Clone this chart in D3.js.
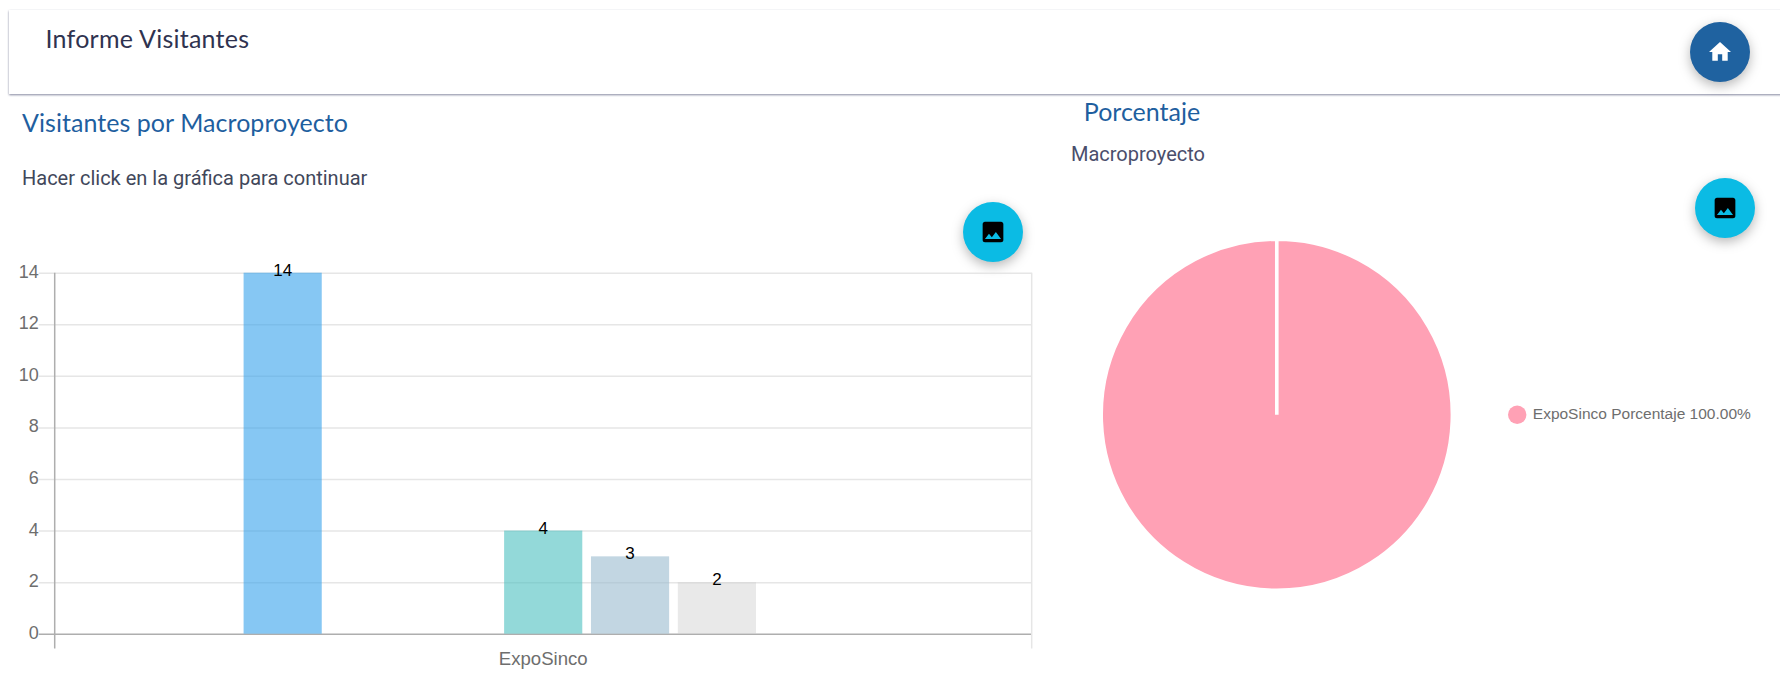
<!DOCTYPE html>
<html>
<head>
<meta charset="utf-8">
<title>Informe Visitantes</title>
<script src="https://cdnjs.cloudflare.com/ajax/libs/d3/7.8.5/d3.min.js"></script>
<style>
    html, body { margin: 0; padding: 0; background: #fff; overflow: hidden; }
    svg { display: block; }
    .card { filter: drop-shadow(0 1.5px 1.2px rgba(50, 55, 95, 0.6)); }
    .fab { filter: drop-shadow(0 4px 6px rgba(0, 0, 0, 0.28)); }
    .nunito { font-family: Lato, "Noto Sans", sans-serif; }
    .roboto { font-family: Roboto, sans-serif; }
    .arial { font-family: "Liberation Sans", Arial, sans-serif; }
</style>
</head>
<body>
<div id="viz-container"></div>
<script>
// bar chart data, one slot per dataset, null = no bar
const categories = ["ExpoSinco"];
const seriesValues = [null, 14, null, null, 4, 3, 2, null, null];
const seriesColors = [
    "rgba(255,99,132,.6)", "rgba(54,162,235,.6)", "rgba(255,206,86,.6)", "rgba(153,102,255,.6)",
    "rgba(75,192,192,.6)", "rgba(150,185,205,.58)", "rgba(201,201,201,.4)", "rgba(255,159,64,.6)", "rgba(100,100,100,.6)"
];
const yTicks = [0, 2, 4, 6, 8, 10, 12, 14];

// pie data
const pieLabels = ["ExpoSinco Porcentaje"];
const pieValues = [100];
const pieColors = ["rgba(255,99,132,.6)"];

const iconHome = "M10 20v-6h4v6h5v-8h3L12 3 2 12h3v8z";
const iconImage = "M21 19V5c0-1.1-.9-2-2-2H5c-1.1 0-2 .9-2 2v14c0 1.1.9 2 2 2h14c1.1 0 2-.9 2-2zM8.5 13.5l2.5 3.01L14.5 12l4.5 6H5l3.5-4.5z";

const width = 1780, height = 681;
const svg = d3.select("#viz-container").append("svg")
    .attr("width", width)
    .attr("height", height);

// header card
svg.append("rect")
    .attr("class", "card")
    .attr("x", 9).attr("y", 10)
    .attr("width", 1790).attr("height", 84)
    .attr("fill", "#fff");

function addText(x, y, str, cls, size, color, anchor) {
    return svg.append("text")
        .attr("class", cls)
        .attr("x", x).attr("y", y)
        .attr("font-size", size)
        .attr("fill", color)
        .attr("text-anchor", anchor || "start")
        .text(str);
}

addText(45.5, 48, "Informe Visitantes", "nunito", 25, "#2f3350").attr("letter-spacing", 0.25);
addText(22, 132, "Visitantes por Macroproyecto", "nunito", 25, "#1f5f9f").attr("letter-spacing", 0.05);
addText(22, 185, "Hacer click en la gráfica para continuar", "roboto", 20, "#41475a");
addText(1142, 120.5, "Porcentaje", "nunito", 25, "#1f5f9f", "middle");
addText(1138, 161, "Macroproyecto", "roboto", 20, "#4a4e6c", "middle");

// round buttons
function addFab(cx, cy, color, icon, iconColor, scale) {
    const g = svg.append("g").attr("transform", `translate(${cx},${cy})`);
    g.append("circle").attr("class", "fab").attr("r", 30).attr("fill", color);
    g.append("path")
        .attr("d", icon)
        .attr("fill", iconColor)
        .attr("transform", `scale(${scale}) translate(-12,-12)`);
}
addFab(1720, 52, "#1f62a0", iconHome, "#fff", 1.1);
addFab(993, 232, "#0bbbe4", iconImage, "#000", 1.15);
addFab(1725, 208, "#0bbbe4", iconImage, "#000", 1.15);

// bar chart
const plot = { left: 54.7, right: 1031.7, top: 272.7, bottom: 633.7 };

const x0 = d3.scaleBand()
    .domain(categories)
    .range([plot.left, plot.right])
    .paddingInner(0.2)
    .paddingOuter(0.1);
const x1 = d3.scaleBand()
    .domain(d3.range(seriesValues.length))
    .range([0, x0.bandwidth()])
    .paddingInner(0.1)
    .paddingOuter(0.05);
const y = d3.scaleLinear()
    .domain([0, 14])
    .range([plot.bottom, plot.top]);

const yAxis = svg.append("g")
    .attr("transform", `translate(${plot.left},0)`)
    .call(d3.axisLeft(y).tickValues(yTicks).tickSizeOuter(0));
yAxis.select(".domain").remove();
yAxis.selectAll(".tick line")
    .attr("x1", -16)
    .attr("x2", plot.right - plot.left)
    .attr("stroke", d => d === 0 ? "#aeaeae" : "#e6e6e6")
    .attr("stroke-width", 1.5);
yAxis.selectAll(".tick text")
    .attr("class", "arial")
    .attr("x", -16)
    .attr("dy", "0.25em")
    .attr("font-size", 18)
    .attr("fill", "#6e6e6e");

// vertical edges of the plot
svg.append("g").selectAll("line")
    .data([plot.left, plot.right])
    .join("line")
    .attr("x1", d => d).attr("x2", d => d)
    .attr("y1", plot.top).attr("y2", 648.5)
    .attr("stroke", (d, i) => i === 0 ? "#aeaeae" : "#e6e6e6")
    .attr("stroke-width", 1.5);

const xAxis = svg.append("g")
    .attr("transform", `translate(0,${plot.bottom})`)
    .call(d3.axisBottom(x0).tickSize(0));
xAxis.select(".domain").remove();
xAxis.selectAll(".tick text")
    .attr("class", "arial")
    .attr("y", 31.5)
    .attr("dy", 0)
    .attr("font-size", 18.6)
    .attr("fill", "#6e6e6e");

const bars = seriesValues
    .map((value, i) => ({ value, i }))
    .filter(d => d.value !== null);
const cat = categories[0];

svg.append("g").selectAll("rect")
    .data(bars)
    .join("rect")
    .attr("x", d => x0(cat) + x1(d.i))
    .attr("y", d => y(d.value))
    .attr("width", x1.bandwidth())
    .attr("height", d => y(0) - y(d.value))
    .attr("fill", d => seriesColors[d.i]);

svg.append("g").selectAll("text")
    .data(bars)
    .join("text")
    .attr("class", "arial")
    .attr("x", d => x0(cat) + x1(d.i) + x1.bandwidth() / 2)
    .attr("y", d => y(d.value) + 3)
    .attr("text-anchor", "middle")
    .attr("font-size", 17)
    .attr("fill", "#000")
    .text(d => d.value);

// pie, kept just short of a full turn so the closing seam is drawn
const pie = d3.pie().sort(null).endAngle(2 * Math.PI - 1e-4);
const arc = d3.arc().innerRadius(0).outerRadius(175.6);

svg.append("g")
    .attr("transform", "translate(1276.8,414.8)")
    .selectAll("path")
    .data(pie(pieValues))
    .join("path")
    .attr("d", arc)
    .attr("fill", (d, i) => pieColors[i])
    .attr("stroke", "#fff")
    .attr("stroke-width", 3.6);

// legend
const total = d3.sum(pieValues);
const legend = svg.append("g").selectAll("g")
    .data(pieLabels)
    .join("g")
    .attr("transform", (d, i) => `translate(1517.2,${414.7 + i * 24})`);
legend.append("circle")
    .attr("r", 9.2)
    .attr("fill", (d, i) => pieColors[i]);
legend.append("text")
    .attr("class", "arial")
    .attr("x", 15.6)
    .attr("y", 4.5)
    .attr("font-size", 15.5)
    .attr("fill", "#6e6e6e")
    .text((d, i) => `${d} ${(pieValues[i] / total * 100).toFixed(2)}%`);
</script>
</body>
</html>
